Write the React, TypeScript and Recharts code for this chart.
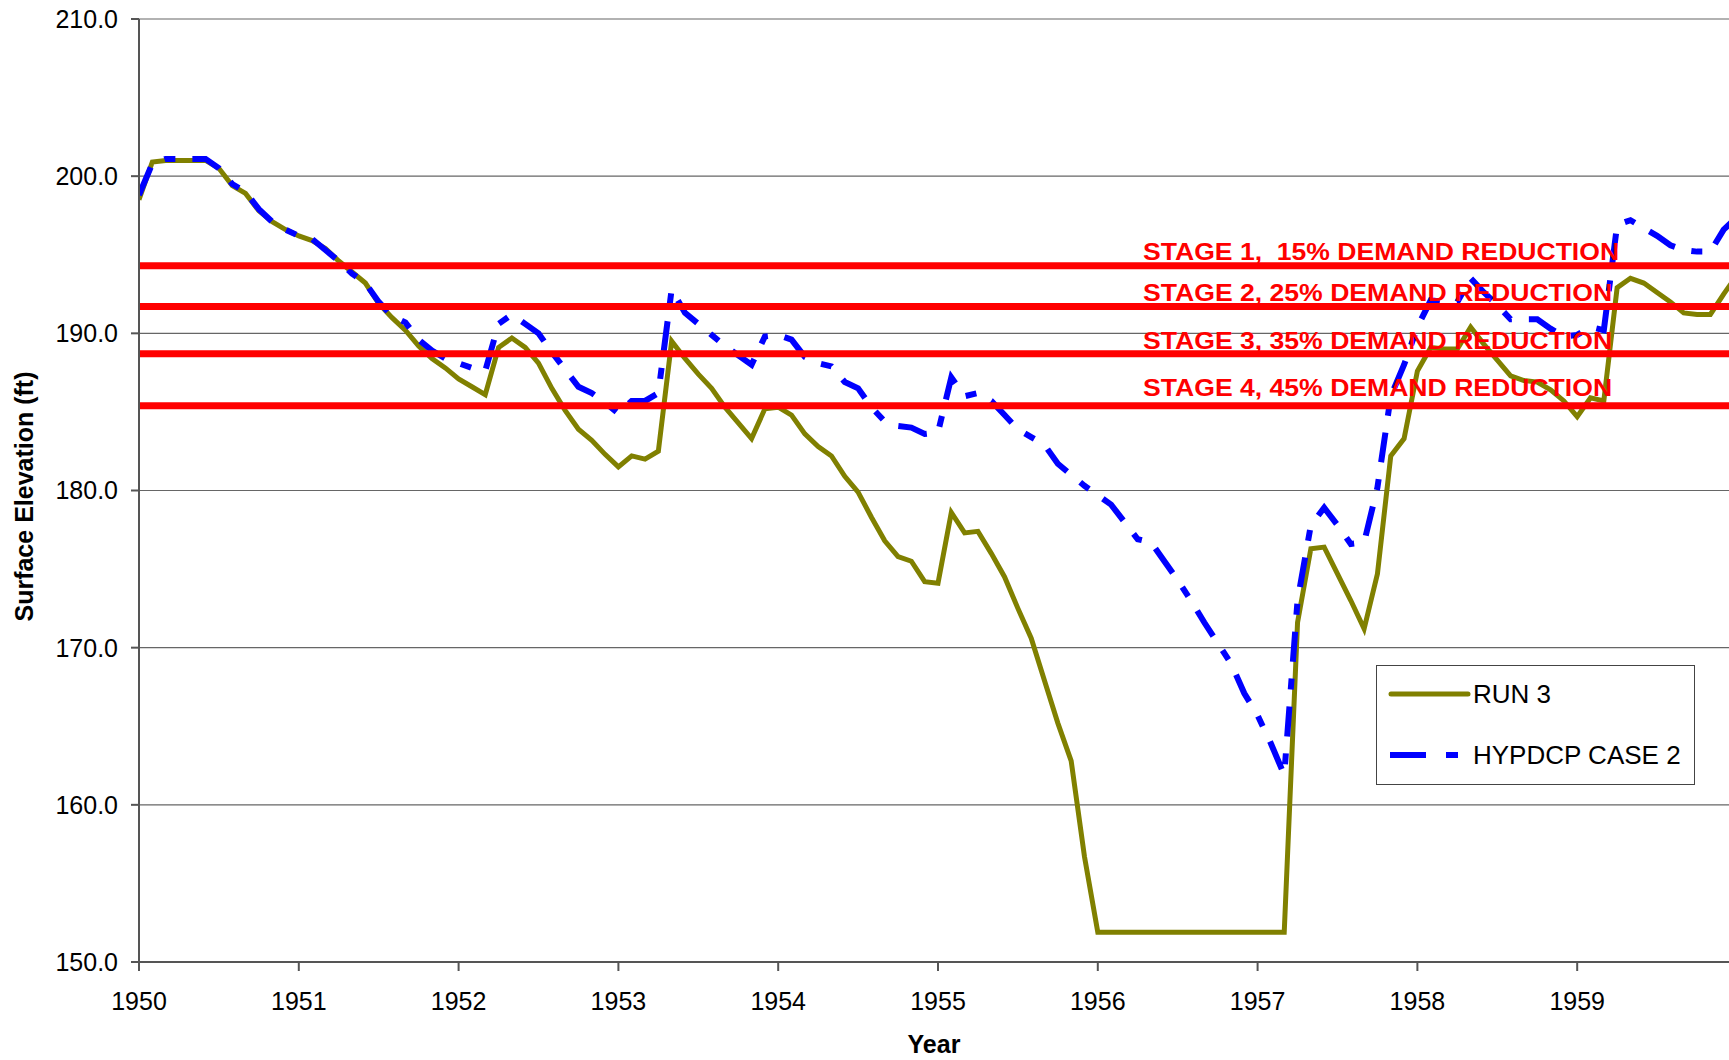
import React from "react";
import {
  LineChart,
  Line,
  XAxis,
  YAxis,
  CartesianGrid,
  ReferenceLine,
  Legend,
  Label,
} from "recharts";

const FONT = "'Liberation Sans', Arial, Helvetica, sans-serif";

// monthly surface elevation (ft), Jan 1950 .. Jan 1960
const RUN3 = [
  198.5, 200.9, 201.0, 201.0, 201.0, 201.0, 200.5, 199.4, 198.9, 197.8, 197.1, 196.6,
  196.2, 195.9, 195.4, 194.6, 193.9, 193.2, 191.9, 191.0, 190.2, 189.2, 188.4, 187.8,
  187.1, 186.6, 186.1, 189.1, 189.7, 189.1, 188.1, 186.5, 185.1, 183.9, 183.2, 182.3,
  181.5, 182.2, 182.0, 182.5, 189.5, 188.4, 187.4, 186.5, 185.3, 184.3, 183.3, 185.2,
  185.3, 184.8, 183.6, 182.8, 182.2, 180.9, 179.9, 178.3, 176.8, 175.8, 175.5, 174.2,
  174.1, 178.6, 177.3, 177.4, 176.0, 174.5, 172.5, 170.6, 167.9, 165.2, 162.8, 156.7,
  151.9, 151.9, 151.9, 151.9, 151.9, 151.9, 151.9, 151.9, 151.9, 151.9, 151.9, 151.9,
  151.9, 151.9, 151.9, 171.6, 176.3, 176.4, 174.7, 173.0, 171.2, 174.7, 182.2, 183.3,
  187.6, 189.1, 189.0, 189.0, 190.4, 189.3, 188.3, 187.3, 187.0, 186.9, 186.4, 185.7,
  184.7, 185.9, 185.7, 192.9, 193.5, 193.2, 192.6, 192.0, 191.3, 191.2, 191.2, 192.5,
  193.7,
];

const HYPDCP = [
  198.8, 200.8, 201.1, 201.1, 201.1, 201.1, 200.5, 199.5, 199.0, 197.9, 197.1, 196.6,
  196.2, 196.0, 195.3, 194.6, 193.8, 193.2, 192.0, 191.1, 190.7, 189.6, 188.9, 188.4,
  188.1, 187.8, 187.6, 190.6, 191.2, 190.6, 190.0, 188.8, 187.7, 186.6, 186.2, 185.6,
  184.9, 185.7, 185.7, 186.2, 192.8, 191.3, 190.6, 189.9, 189.2, 188.6, 188.0, 189.8,
  189.9, 189.6, 188.5, 188.1, 187.9, 186.9, 186.5, 185.3, 184.4, 184.1, 184.0, 183.6,
  183.7, 187.2, 186.0, 186.2, 185.7, 184.8, 183.9, 183.4, 182.9, 181.7, 181.0, 180.3,
  179.7, 179.1, 178.0, 176.9, 176.7, 175.5, 174.3, 173.0, 171.6, 170.3, 169.0, 167.1,
  165.7, 163.9, 161.9, 173.0, 177.8, 178.9, 177.8, 176.6, 176.7, 180.2, 186.0, 188.0,
  190.4, 192.1, 192.0, 192.0, 193.5, 192.6, 191.8, 190.9, 190.9, 190.9, 190.3, 189.8,
  189.9, 190.4, 190.2, 196.9, 197.2, 196.7, 196.2, 195.6, 195.3, 195.2, 195.2, 196.6,
  197.4,
];

const YEAR_TICKS = [1950, 1951, 1952, 1953, 1954, 1955, 1956, 1957, 1958, 1959];
const ELEV_TICKS = [150, 160, 170, 180, 190, 200, 210];

const STAGE_LEVELS = [194.3, 191.7, 188.7, 185.4];
const STAGE_TEXT = [
  "STAGE 1,  15% DEMAND REDUCTION",
  "STAGE 2, 25% DEMAND REDUCTION",
  "STAGE 3, 35% DEMAND REDUCTION",
  "STAGE 4, 45% DEMAND REDUCTION",
];
const STAGE_TEXT_RISE = [6, 6, 5, 10];
const STAGE_TEXT_LEN = [476, 469, 469, 469];

const OLIVE = "#808000";
const BLUE = "#0000FF";
const RED = "#FF0000";
const DASH = "30 17 11 17";

const data = RUN3.map((v, i) => ({
  t: 1950 + i / 12,
  run3: v,
  hyp: HYPDCP[i],
}));

const stageLabel = (idx: number) => (props: any) => {
  const vb = props.viewBox || {};
  return (
    <text
      x={vb.x + vb.width * 0.6315}
      y={vb.y - STAGE_TEXT_RISE[idx]}
      fill={RED}
      fontSize={24}
      fontWeight="bold"
      fontFamily={FONT}
      textLength={STAGE_TEXT_LEN[idx]}
      lengthAdjust="spacingAndGlyphs"
      style={{ whiteSpace: "pre" }}
    >
      {STAGE_TEXT[idx]}
    </text>
  );
};

const YTitle = (props: any) => {
  const vb = props.viewBox || {};
  const cx = vb.x + 24;
  const cy = vb.y + vb.height / 2 + 6;
  return (
    <text
      x={cx}
      y={cy}
      transform={`rotate(-90, ${cx}, ${cy})`}
      textAnchor="middle"
      dominantBaseline="central"
      fontSize={25}
      fontWeight="bold"
      fontFamily={FONT}
      fill="#000"
    >
      Surface Elevation (ft)
    </text>
  );
};

const renderLegend = () => (
  <div
    style={{
      width: 317,
      height: 118,
      border: "1px solid #444",
      background: "#fff",
      position: "relative",
      fontFamily: FONT,
      fontSize: 26,
      color: "#000",
    }}
  >
    <svg width={95} height={118} style={{ position: "absolute", left: 0, top: 0 }}>
      <line x1={14} x2={91} y1={28} y2={28} stroke={OLIVE} strokeWidth={5} strokeLinecap="round" />
      <line x1={13} x2={92} y1={89} y2={89} stroke={BLUE} strokeWidth={6} strokeDasharray="36 20 12 20" />
    </svg>
    <div style={{ position: "absolute", left: 96, top: 28, transform: "translateY(-50%)", lineHeight: 1 }}>
      RUN 3
    </div>
    <div style={{ position: "absolute", left: 96, top: 89, transform: "translateY(-50%)", lineHeight: 1, whiteSpace: "nowrap" }}>
      HYPDCP CASE 2
    </div>
  </div>
);

export default function App() {
  return (
    <div style={{ position: "absolute", left: 0, top: 0, background: "#fff" }}>
      <LineChart
        width={1729}
        height={1060}
        data={data}
        margin={{ top: 19, right: 0, bottom: 0, left: 0 }}
      >
        <CartesianGrid vertical={false} stroke="#666" strokeWidth={1.2} />
        <XAxis
          dataKey="t"
          type="number"
          domain={[1950, 1959.95]}
          allowDataOverflow
          ticks={YEAR_TICKS}
          interval={0}
          height={98}
          tickSize={9}
          tickMargin={21}
          stroke="#555"
          strokeWidth={2}
          tick={{ fill: "#000", fontSize: 25, fontFamily: FONT }}
          tickFormatter={(v) => String(Math.round(v))}
        >
          <Label
            value="Year"
            position="insideBottom"
            offset={7}
            style={{ fontSize: 25, fontWeight: "bold", fontFamily: FONT, fill: "#000" }}
          />
        </XAxis>
        <YAxis
          type="number"
          domain={[150, 210]}
          ticks={ELEV_TICKS}
          interval={0}
          width={139}
          tickSize={8}
          tickMargin={13}
          stroke="#555"
          strokeWidth={2}
          tick={{ fill: "#000", fontSize: 25, fontFamily: FONT }}
          tickFormatter={(v) => Number(v).toFixed(1)}
        >
          <Label content={<YTitle />} />
        </YAxis>
        <Line
          type="linear"
          dataKey="run3"
          name="RUN 3"
          stroke={OLIVE}
          strokeWidth={5}
          dot={false}
          activeDot={false}
          isAnimationActive={false}
        />
        <Line
          type="linear"
          dataKey="hyp"
          name="HYPDCP CASE 2"
          stroke={BLUE}
          strokeWidth={6}
          strokeDasharray={DASH}
          dot={false}
          activeDot={false}
          isAnimationActive={false}
        />
        {STAGE_LEVELS.map((lvl, i) => (
          <ReferenceLine
            key={lvl}
            y={lvl}
            stroke={RED}
            strokeWidth={7}
            label={stageLabel(i)}
          />
        ))}
        <Legend
          layout="vertical"
          align="center"
          verticalAlign="middle"
          content={renderLegend}
          wrapperStyle={{ left: 1376, top: 665, width: 319, height: 120 }}
        />
      </LineChart>
    </div>
  );
}
